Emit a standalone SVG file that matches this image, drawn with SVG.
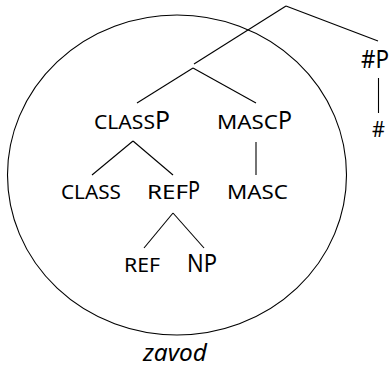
<svg xmlns="http://www.w3.org/2000/svg" width="392" height="367" viewBox="0 0 392 367">
<style>
  .t { font-family: "Noto Sans", "Open Sans", "Liberation Sans", sans-serif; fill: #000; }
  .sc { font-size: 19px; }
  .big { font-size: 26px; }
  .ln { stroke: #000; stroke-width: 1.1; fill: none; }
</style>
<rect width="392" height="367" fill="#fff"/>
<ellipse id="circle" cx="177" cy="175" rx="169.5" ry="160" class="ln"/>
<g id="connectors">
  <line class="ln" x1="286" y1="6" x2="194" y2="64"/>
  <line class="ln" x1="286" y1="6" x2="378" y2="41"/>
  <line class="ln" x1="193" y1="68" x2="137" y2="103"/>
  <line class="ln" x1="193" y1="68" x2="256" y2="103"/>
  <line class="ln" x1="378.5" y1="78" x2="378.5" y2="113"/>
  <line class="ln" x1="133" y1="141" x2="92" y2="175"/>
  <line class="ln" x1="133" y1="141" x2="173" y2="175"/>
  <line class="ln" x1="256" y1="142" x2="256" y2="175"/>
  <line class="ln" x1="173" y1="213" x2="144" y2="248"/>
  <line class="ln" x1="173" y1="213" x2="204" y2="248"/>
</g>
<g id="classp">
  <text class="t sc" x="94" y="129" textLength="61" lengthAdjust="spacingAndGlyphs">CLASS</text>
  <text class="t big" x="155" y="129" textLength="15" lengthAdjust="spacingAndGlyphs">P</text>
</g>
<g id="mascp">
  <text class="t sc" x="217" y="129" textLength="61" lengthAdjust="spacingAndGlyphs">MASC</text>
  <text class="t big" x="278" y="129" textLength="14" lengthAdjust="spacingAndGlyphs">P</text>
</g>
<g id="class">
  <text class="t sc" x="61" y="199" textLength="60" lengthAdjust="spacingAndGlyphs">CLASS</text>
</g>
<g id="refp">
  <text class="t sc" x="147" y="199" textLength="41" lengthAdjust="spacingAndGlyphs">REF</text>
  <text class="t big" x="188" y="199" textLength="12" lengthAdjust="spacingAndGlyphs">P</text>
</g>
<g id="masc">
  <text class="t sc" x="227" y="199" textLength="61" lengthAdjust="spacingAndGlyphs">MASC</text>
</g>
<g id="ref">
  <text class="t sc" x="124" y="272" textLength="36" lengthAdjust="spacingAndGlyphs">REF</text>
</g>
<g id="np">
  <text class="t big" x="187" y="272" textLength="30" lengthAdjust="spacingAndGlyphs">NP</text>
</g>
<g id="hashp">
  <text class="t" font-size="25" x="361" y="68" textLength="28" lengthAdjust="spacingAndGlyphs">#P</text>
</g>
<g id="hash">
  <text class="t" font-size="22" x="372" y="137" textLength="13" lengthAdjust="spacingAndGlyphs">#</text>
</g>
<g id="zavod">
  <text class="t" font-size="23" font-style="italic" x="143" y="361" textLength="64" lengthAdjust="spacingAndGlyphs">zavod</text>
</g>
</svg>
